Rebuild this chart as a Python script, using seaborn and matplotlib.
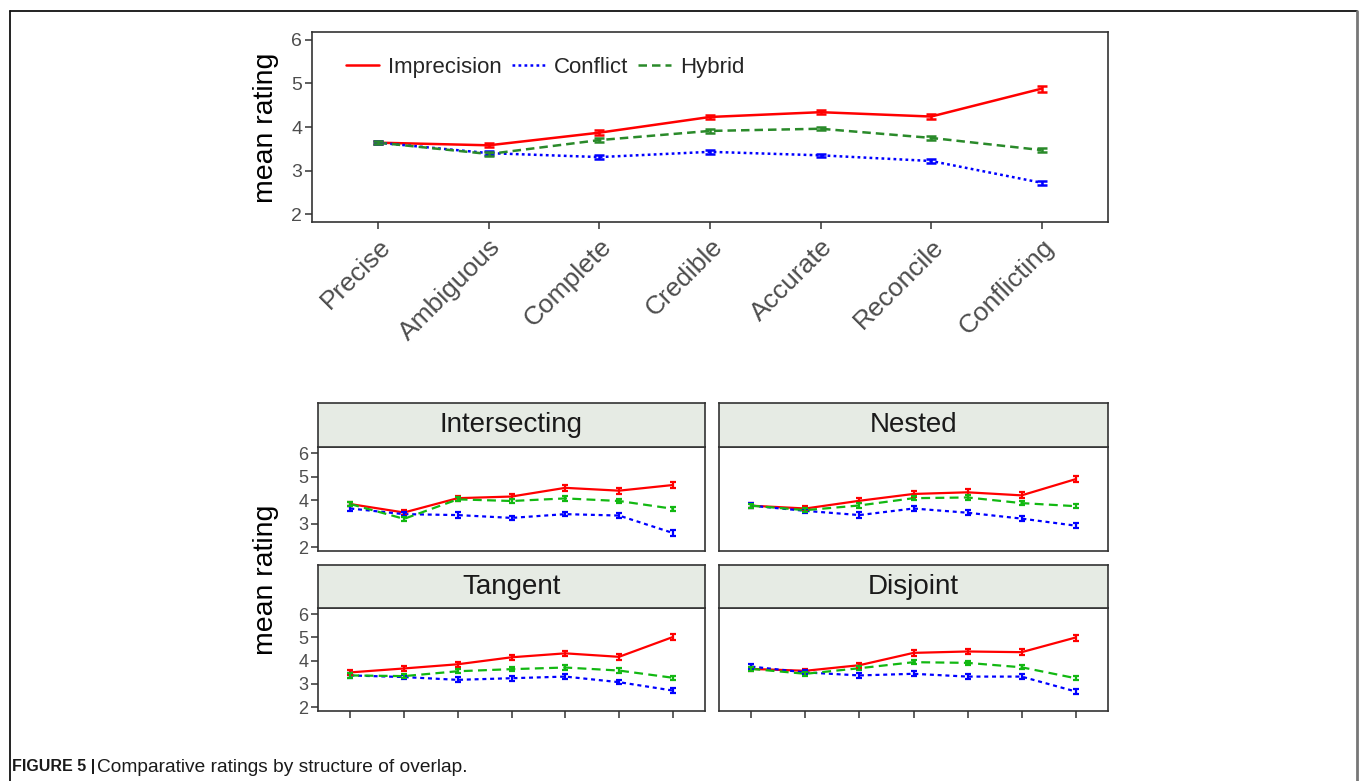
import numpy as np
import pandas as pd
import matplotlib
matplotlib.use("Agg")
import matplotlib.pyplot as plt
from matplotlib.lines import Line2D
import seaborn as sns

sns.set_theme(style="white")
plt.rcParams["font.family"] = ["Liberation Sans", "DejaVu Sans"]

# ---------------- data ----------------
terms = ["Precise", "Ambiguous", "Complete", "Credible", "Accurate", "Reconcile", "Conflicting"]
conditions = ["Imprecision", "Conflict", "Hybrid"]
structures = ["Intersecting", "Nested", "Tangent", "Disjoint"]

# overall means and standard errors
imprecision_all = [3.64, 3.58, 3.87, 4.23, 4.34, 4.24, 4.88]
conflict_all = [3.64, 3.40, 3.31, 3.43, 3.35, 3.22, 2.72]
hybrid_all = [3.64, 3.38, 3.70, 3.91, 3.96, 3.75, 3.47]
imprecision_all_se = [0.04, 0.05, 0.05, 0.05, 0.05, 0.05, 0.07]
conflict_all_se = [0.04, 0.04, 0.04, 0.04, 0.04, 0.04, 0.05]
hybrid_all_se = [0.04, 0.04, 0.05, 0.05, 0.04, 0.04, 0.04]

# means by structure of overlap
imprecision_intersecting = [3.83, 3.47, 4.08, 4.15, 4.52, 4.40, 4.64]
conflict_intersecting = [3.64, 3.40, 3.36, 3.24, 3.40, 3.34, 2.60]
hybrid_intersecting = [3.83, 3.20, 4.03, 3.96, 4.07, 3.96, 3.63]

imprecision_nested = [3.76, 3.64, 3.97, 4.26, 4.33, 4.20, 4.89]
conflict_nested = [3.76, 3.54, 3.36, 3.64, 3.46, 3.21, 2.91]
hybrid_nested = [3.76, 3.57, 3.77, 4.08, 4.11, 3.87, 3.74]

imprecision_tangent = [3.49, 3.66, 3.84, 4.14, 4.31, 4.16, 5.01]
conflict_tangent = [3.36, 3.29, 3.17, 3.24, 3.31, 3.07, 2.71]
hybrid_tangent = [3.36, 3.33, 3.54, 3.63, 3.70, 3.57, 3.26]

imprecision_disjoint = [3.64, 3.56, 3.80, 4.33, 4.39, 4.36, 4.99]
conflict_disjoint = [3.74, 3.49, 3.36, 3.43, 3.31, 3.31, 2.67]
hybrid_disjoint = [3.64, 3.43, 3.67, 3.93, 3.90, 3.71, 3.24]

# standard errors by structure of overlap
imprecision_facet_se = [0.10, 0.09, 0.10, 0.12, 0.12, 0.13, 0.13]
conflict_facet_se = [0.10, 0.09, 0.11, 0.10, 0.10, 0.10, 0.11]
hybrid_facet_se = [0.09, 0.08, 0.09, 0.09, 0.09, 0.09, 0.08]

# ---------------- style ----------------
RED, BLUE = "#FF0000", "#0000FF"
GREEN_TOP, GREEN_FACET = "#2A8A2A", "#12B812"
DASHES_TOP = {"Imprecision": "", "Conflict": (1.1, 1.3), "Hybrid": (3.4, 2.0)}
DASHES_FACET = {"Imprecision": "", "Conflict": (1.8, 1.7), "Hybrid": (4.0, 2.4)}
TICK_GRAY = "#4D4D4D"
FRAME = "#333333"

W, H = 1359, 781
fig = plt.figure(figsize=(W / 100, H / 100), dpi=100)


def px_axes(x0, y0, x1, y1):
    """Axes from pixel box (top-left origin)."""
    return fig.add_axes([x0 / W, 1 - y1 / H, (x1 - x0) / W, (y1 - y0) / H])


def long_frame(imp, con, hyb):
    rows = []
    for cond, vals in zip(conditions, (imp, con, hyb)):
        for i, v in enumerate(vals):
            rows.append({"pos": i, "term": terms[i], "condition": cond, "rating": v})
    return pd.DataFrame(rows)


def draw_panel(ax, imp, con, hyb, errs, green, dashes, lw, cap, legend=False):
    df = long_frame(imp, con, hyb)
    palette = {"Imprecision": RED, "Conflict": BLUE, "Hybrid": green}
    sns.lineplot(data=df, x="pos", y="rating", hue="condition", style="condition",
                 hue_order=conditions, style_order=conditions, palette=palette,
                 dashes=dashes, linewidth=lw, ax=ax, legend=False, sort=False)
    for cond, vals, se in zip(conditions, (imp, con, hyb), errs):
        ax.errorbar(np.arange(len(terms)), vals, yerr=se, fmt="none",
                    ecolor=palette[cond], elinewidth=lw, capsize=cap,
                    capthick=lw, zorder=3)
    ax.set_xlim(-0.6, len(terms) - 0.4)
    ax.set_xlabel("")
    ax.set_ylabel("")
    for s in ax.spines.values():
        s.set_color(FRAME)
        s.set_linewidth(1.2)
        s.set_visible(True)
    ax.set_facecolor("white")
    if legend:
        handles = []
        for c in conditions:
            h = Line2D([0], [0], color=palette[c], lw=lw)
            if dashes[c]:
                h.set_dashes(dashes[c])
            handles.append(h)
        ax.legend(handles, conditions, loc="center left", ncol=3, frameon=False,
                  fontsize=16, handlelength=1.5, handletextpad=0.4, columnspacing=0.45,
                  bbox_to_anchor=(0.031, 0.815), borderaxespad=0.0)


# ---------------- top panel ----------------
ax_top = px_axes(312, 32, 1108, 222)
draw_panel(ax_top, imprecision_all, conflict_all, hybrid_all,
           (imprecision_all_se, conflict_all_se, hybrid_all_se),
           GREEN_TOP, DASHES_TOP, 1.8, 3.6, legend=True)
ax_top.set_ylim(1.82, 6.18)
ax_top.set_yticks([2, 3, 4, 5, 6])
ax_top.set_xticks(range(len(terms)))
ax_top.set_xticklabels(terms, rotation=45, ha="right", va="top",
                       rotation_mode="anchor", fontsize=19, color=TICK_GRAY)
ax_top.tick_params(axis="both", which="both", length=5, width=1.1, color=FRAME,
                   direction="out", bottom=True, left=True)
ax_top.tick_params(axis="x", pad=4)
ax_top.tick_params(axis="y", labelsize=14, labelcolor=TICK_GRAY, pad=2)
fig.text(266 / W, 1 - 128 / H, "mean rating", rotation=90, ha="center", va="center",
         fontsize=20.5, color="black")

# ---------------- faceted panels ----------------
facet_data = {
    "Intersecting": (imprecision_intersecting, conflict_intersecting, hybrid_intersecting),
    "Nested": (imprecision_nested, conflict_nested, hybrid_nested),
    "Tangent": (imprecision_tangent, conflict_tangent, hybrid_tangent),
    "Disjoint": (imprecision_disjoint, conflict_disjoint, hybrid_disjoint),
}
cols = [(318, 705), (719, 1108)]
rows = [(403, 447, 551), (565, 608, 711)]
facet_errs = (imprecision_facet_se, conflict_facet_se, hybrid_facet_se)

for k, name in enumerate(structures):
    r, c = divmod(k, 2)
    x0, x1 = cols[c]
    s0, a0, a1 = rows[r]
    ax = px_axes(x0, a0, x1, a1)
    imp, con, hyb = facet_data[name]
    draw_panel(ax, imp, con, hyb, facet_errs, GREEN_FACET, DASHES_FACET, 1.6, 2.4)
    ax.set_ylim(1.83, 6.26)
    ax.set_yticks([2, 3, 4, 5, 6])
    ax.set_xticks(range(len(terms)))
    ax.set_xticklabels([])
    ax.tick_params(axis="both", length=5, width=1.1, color=FRAME, direction="out",
                   left=(c == 0), bottom=(r == 1), labelleft=(c == 0), labelbottom=False)
    ax.tick_params(axis="y", labelsize=13, labelcolor=TICK_GRAY, pad=2)

    strip = px_axes(x0, s0, x1, a0)
    strip.set_facecolor("#E6EBE4")
    strip.set_xticks([])
    strip.set_yticks([])
    for s in strip.spines.values():
        s.set_color(FRAME)
        s.set_linewidth(1.2)
        s.set_visible(True)
    strip.text(0.5, 0.5, name, ha="center", va="center", fontsize=20, color="#1A1A1A",
               transform=strip.transAxes)

fig.text(266 / W, 1 - 580 / H, "mean rating", rotation=90, ha="center", va="center",
         fontsize=20.5, color="black")

# ---------------- page frame and caption ----------------
fig.add_artist(Line2D([10 / W, 1357 / W], [1 - 11 / H, 1 - 11 / H], color="#111111", lw=1.3,
                      transform=fig.transFigure))
fig.add_artist(Line2D([10 / W, 10 / W], [1 - 11 / H, 0], color="#111111", lw=1.3,
                      transform=fig.transFigure))
fig.add_artist(Line2D([1357 / W, 1357 / W], [1 - 11 / H, 0], color="#777777", lw=2.0,
                      transform=fig.transFigure))

fig.text(12 / W, 1 - 767 / H, "FIGURE 5 |", fontsize=11.5, fontweight="bold",
         ha="left", va="center", color="#1A1A1A")
fig.text(97 / W, 1 - 767 / H, "Comparative ratings by structure of overlap.", fontsize=13.8,
         ha="left", va="center", color="#1A1A1A")

fig.savefig("out.png", dpi=100, facecolor="white")
